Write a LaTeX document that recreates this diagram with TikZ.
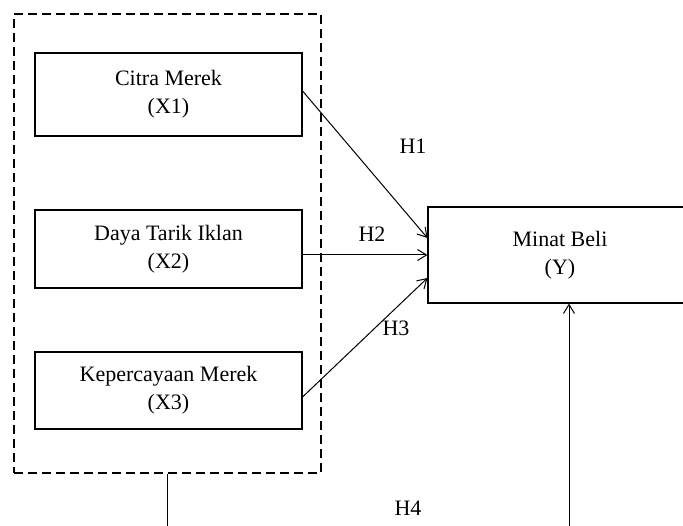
\documentclass[tikz,border=0pt]{standalone}
\usepackage{fontspec}
\setmainfont{Liberation Serif}
\usetikzlibrary{arrows.meta}
\begin{document}
\begin{tikzpicture}[x=1pt,y=-1pt,
  varbox/.style={draw,line width=1.1pt,rectangle,align=center,inner sep=0pt,
    font=\fontsize{22}{28}\selectfont},
  conn/.style={line width=1pt,-{Straight Barb[length=9pt,width=11pt,line width=1pt]}},
  plain/.style={line width=1pt},
  hlab/.style={font=\fontsize{22}{26}\selectfont,inner sep=0pt},
  grpbox/.style={draw,line width=1.1pt,dash pattern=on 9pt off 5pt,rectangle,inner sep=0pt}]
\useasboundingbox (0,0) rectangle (683,526);
\clip (0,0) rectangle (683,526);
\fill[white] (0,0) rectangle (683,526);
% dashed group
\node[grpbox,minimum width=307pt,minimum height=459pt] (grp) at (167.5,243.5) {};
% independent variables
\node[varbox,minimum width=267pt,minimum height=83pt] (X1) at (168.5,94.5) {Citra Merek\\(X1)};
\node[varbox,minimum width=267pt,minimum height=78pt] (X2) at (168.5,249) {Daya Tarik Iklan\\(X2)};
\node[varbox,minimum width=267pt,minimum height=77pt] (X3) at (168.5,390.5) {Kepercayaan Merek\\(X3)};
% dependent variable
\node[varbox,minimum width=264pt,minimum height=96pt] (Y) at (560,255) {Minat Beli\\(Y)};
% connectors
\draw[conn] ([yshift=3.5pt]X1.east) -- ([yshift=17pt]Y.west);
\draw[conn] ([yshift=-6pt]X2.east) -- (Y.west);
\draw[conn] ([yshift=-6.5pt]X3.east) -- ([yshift=-23pt]Y.west);
% bottom link H4
\coordinate (b1) at (167,530);
\coordinate (b2) at (569,530);
\draw[plain] (grp.south -| b1) -- (b1);
\draw[conn] (b2) -- (Y.south -| b2);
% labels
\node[hlab] (h1) at (413,146) {H1};
\node[hlab] (h2) at (372,234) {H2};
\node[hlab] (h3) at (396,328) {H3};
\node[hlab] (h4) at (408,508) {H4};
\end{tikzpicture}
\end{document}
